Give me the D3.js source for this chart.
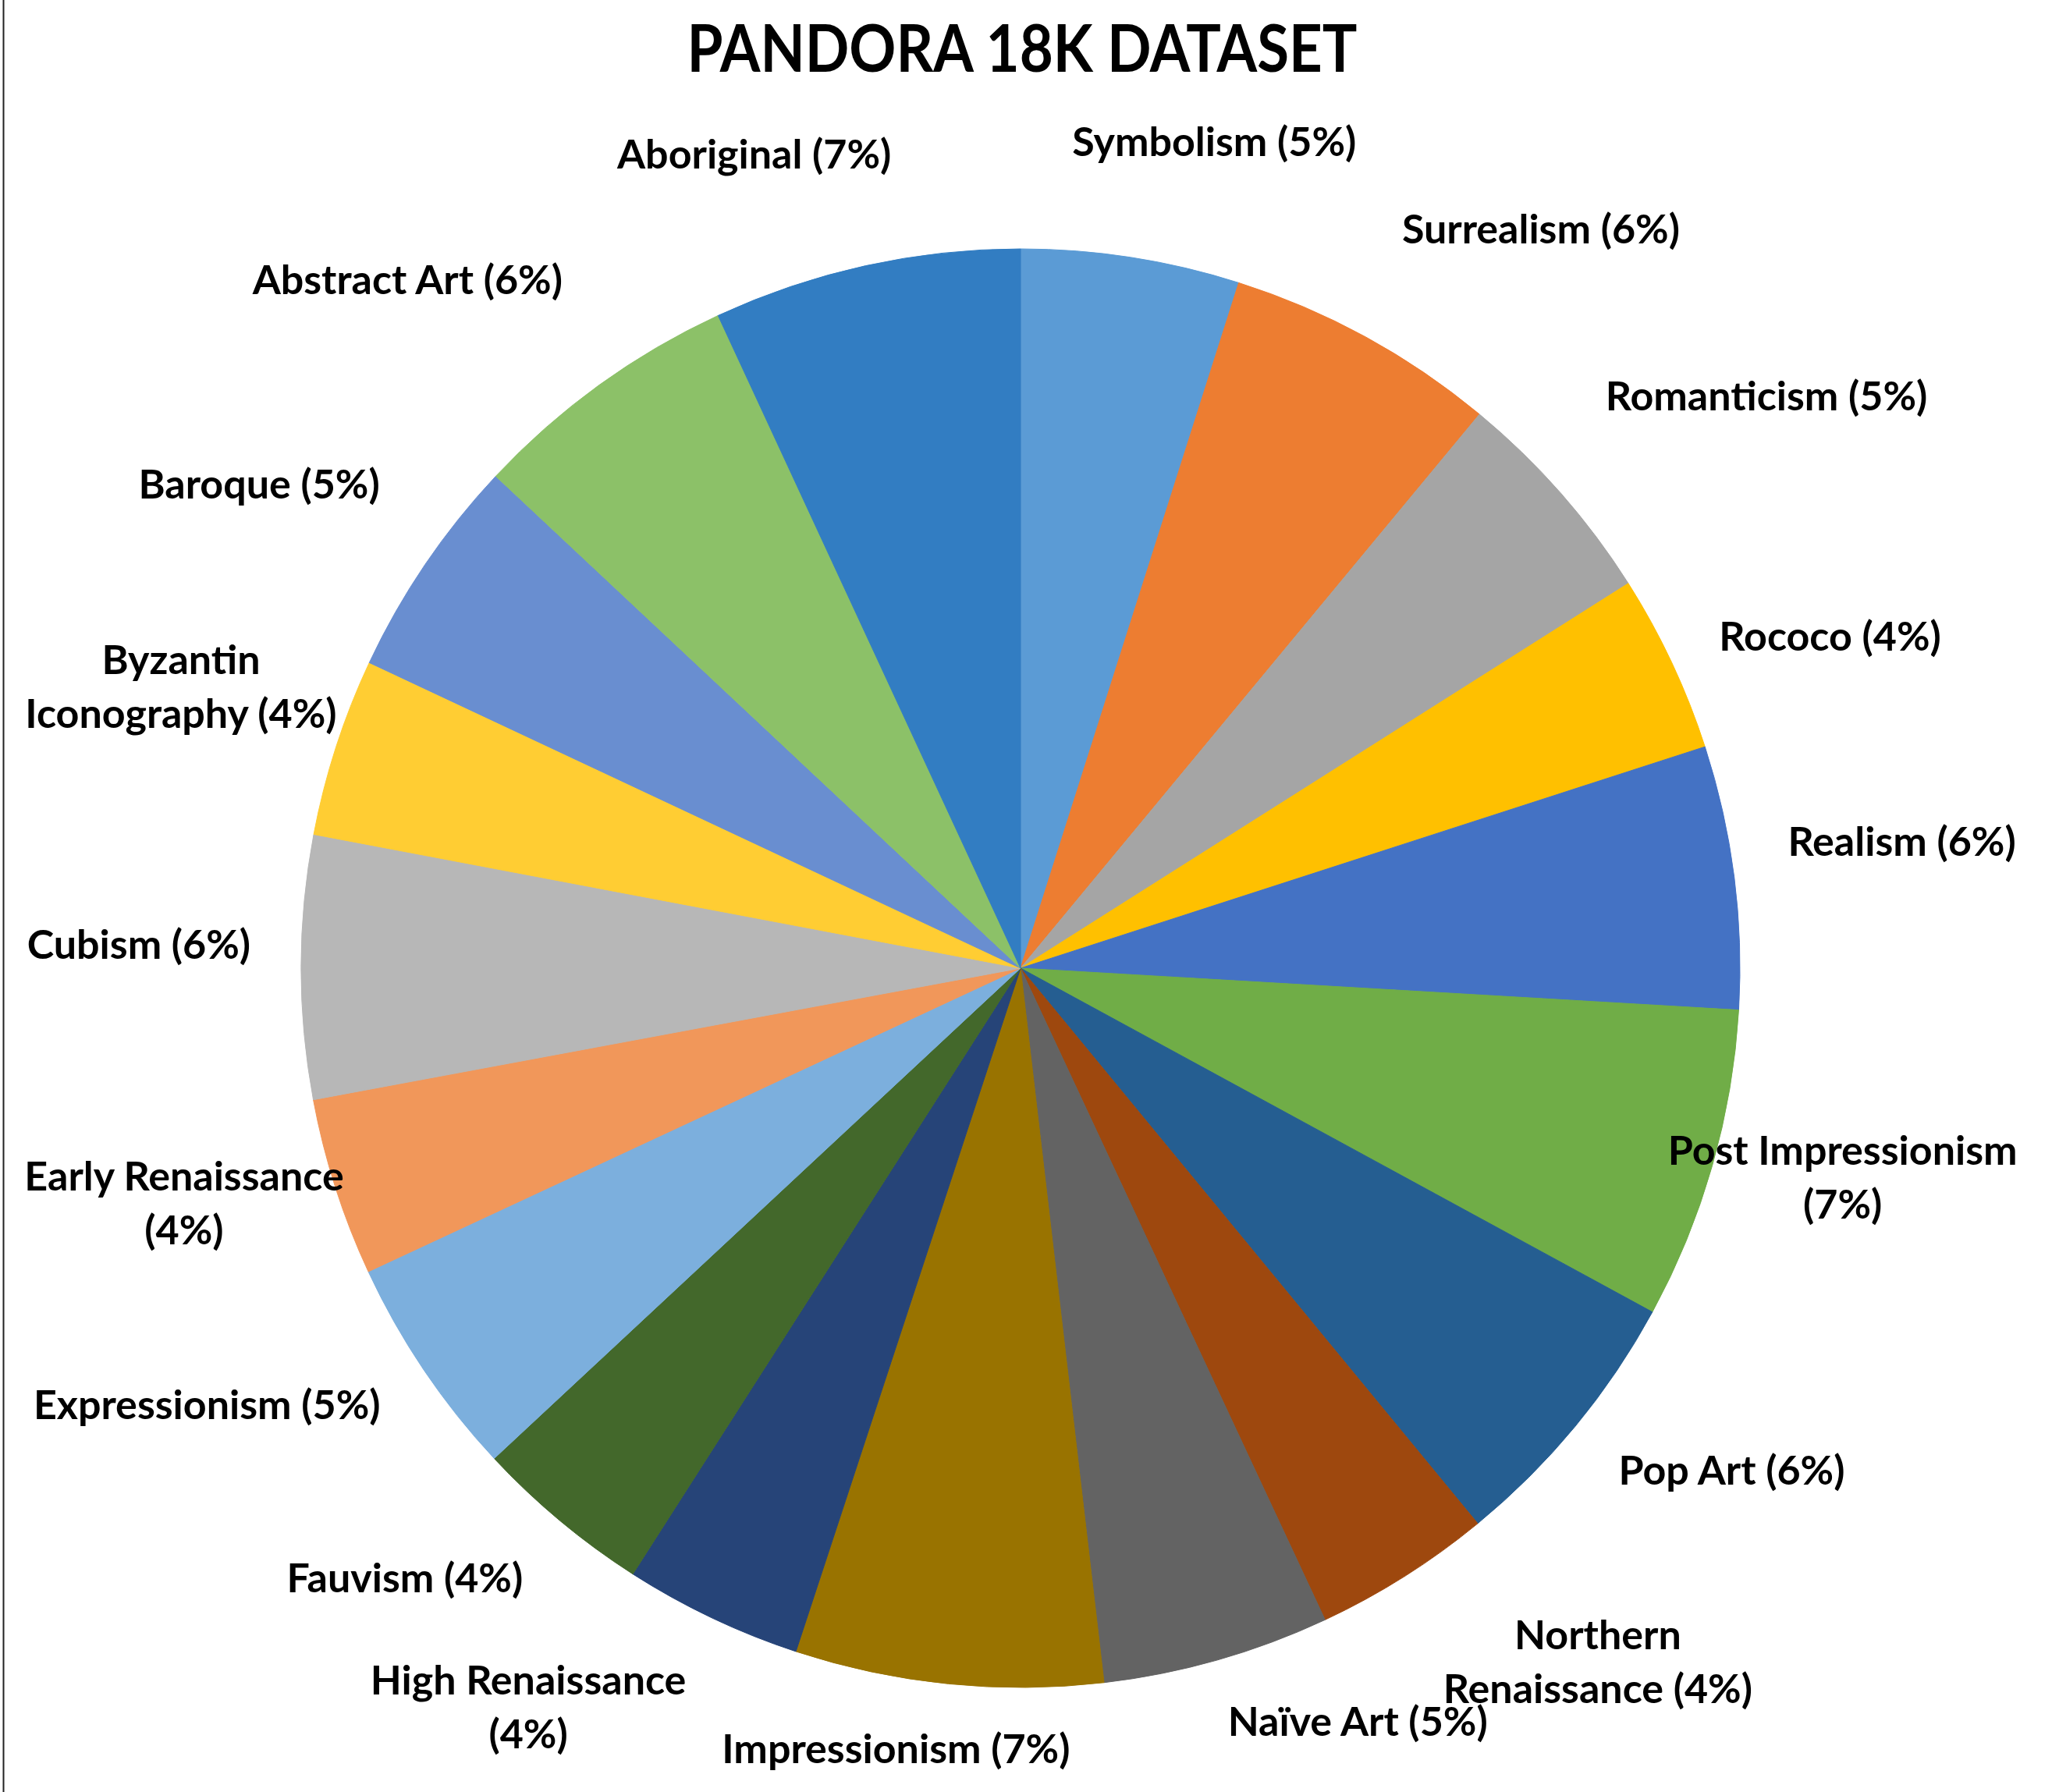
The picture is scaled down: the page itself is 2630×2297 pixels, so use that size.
<!DOCTYPE html>
<html>
<head>
<meta charset="utf-8">
<script src="https://cdn.jsdelivr.net/npm/d3@7"></script>
<style>
  html, body { margin: 0; padding: 0; background: #fff; }
  svg { display: block; }
  text { font-family: Lato, "Open Sans", sans-serif; font-weight: 700; fill: #000; }
</style>
</head>
<body>
<div id="chart"></div>
<script>
// categories in clockwise order from 12 o'clock
const categories = [
  'Symbolism', 'Surrealism', 'Romanticism', 'Rococo', 'Realism',
  'Post Impressionism', 'Pop Art', 'Northern Renaissance', 'Naïve Art',
  'Impressionism', 'High Renaissance', 'Fauvism', 'Expressionism',
  'Early Renaissance', 'Cubism', 'Byzantin Iconography', 'Baroque',
  'Abstract Art', 'Aboriginal'
];

// share of the dataset (%)
const values = [
  4.9, 6.1, 5.0, 4.0, 5.9,
  7.0, 6.1, 4.0, 5.1,
  6.9, 4.0, 4.0, 5.0,
  4.0, 5.9, 4.0, 5.0,
  6.1, 6.9
];

const colors = [
  '#5b9bd5', '#ed7d31', '#a5a5a5', '#ffc000', '#4472c4',
  '#70ad47', '#255e91', '#9e480e', '#636363',
  '#997300', '#264478', '#43682b', '#7cafdd',
  '#f1975a', '#b7b7b7', '#ffcd33', '#698ed0',
  '#8cc168', '#327dc2'
];

// how many words stay on the first label line (0 = no wrap)
const wrapAfter = [0, 0, 0, 0, 0, 2, 0, 1, 0, 0, 2, 0, 0, 2, 0, 1, 0, 0, 0];

// label offsets (px) from the default outside position, like Excel's "best fit"
const labelNudge = [
  [87, -22], [163, -27], [167, -41], [86, 19], [87, -30],
  [43, -22], [101, -27], [179, -1], [145, -47],
  [-54, -47], [-180, -4], [-116, -27], [-171, -29],
  [-71, -21], [-79, -30], [-76, -39], [-106, -32],
  [-170, -32], [-115, -19]
];

const width = 2630, height = 2297;
const cx = 1308, cy = 1241, radius = 922;
const labelRadius = radius * 1.14;
const lineHeight = 69;

const svg = d3.select('#chart').append('svg')
  .attr('width', width)
  .attr('height', height);

svg.append('rect')
  .attr('width', width)
  .attr('height', height)
  .attr('fill', '#fff');

// thin frame line on the left edge
svg.append('line')
  .attr('x1', 4.5).attr('x2', 4.5)
  .attr('y1', 0).attr('y2', height)
  .attr('stroke', '#222')
  .attr('stroke-width', 2);

svg.append('text')
  .attr('x', 1310)
  .attr('y', 92)
  .attr('text-anchor', 'middle')
  .attr('font-size', 84)
  .attr('textLength', 859)
  .attr('lengthAdjust', 'spacingAndGlyphs')
  .text('PANDORA 18K DATASET');

const data = categories.map((c, i) => ({ name: c, value: values[i], index: i }));
const total = d3.sum(values);
const pct = d3.format('.0%');

const pie = d3.pie()
  .value(d => d.value)
  .sort(null);

const arc = d3.arc()
  .innerRadius(0)
  .outerRadius(radius);

const labelArc = d3.arc()
  .innerRadius(labelRadius)
  .outerRadius(labelRadius);

const g = svg.append('g')
  .attr('transform', `translate(${cx},${cy})`);

const arcs = pie(data);

g.selectAll('.slice')
  .data(arcs)
  .enter()
  .append('path')
  .attr('class', 'slice')
  .attr('d', arc)
  .attr('fill', d => colors[d.data.index])
  .attr('stroke', d => colors[d.data.index])
  .attr('stroke-width', 1);

const labels = g.selectAll('.label')
  .data(arcs)
  .enter()
  .append('text')
  .attr('class', 'label')
  .attr('font-size', 52)
  .attr('text-anchor', 'middle')
  .attr('transform', d => {
    const [x, y] = labelArc.centroid(d);
    const n = labelNudge[d.data.index];
    return `translate(${x + n[0]},${y + n[1]})`;
  });

labels.each(function(d) {
  const full = `${d.data.name} (${pct(d.data.value / total)})`;
  const words = full.split(' ');
  const k = wrapAfter[d.data.index];
  const lines = k > 0 ? [words.slice(0, k).join(' '), words.slice(k).join(' ')] : [full];
  const t = d3.select(this);
  lines.forEach((ln, j) => {
    t.append('tspan')
      .attr('x', 0)
      .attr('y', (j - (lines.length - 1) / 2) * lineHeight)
      .attr('dominant-baseline', 'central')
      .text(ln);
  });
});
</script>
</body>
</html>
